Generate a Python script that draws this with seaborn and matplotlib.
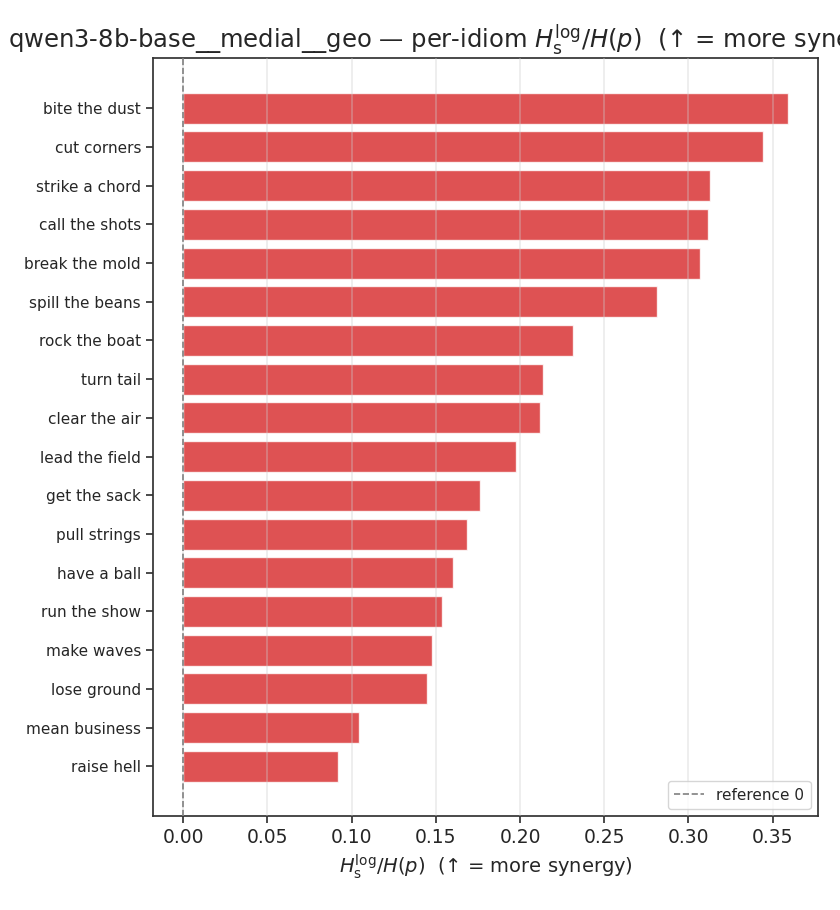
import matplotlib
matplotlib.use("Agg")
import matplotlib.pyplot as plt
import seaborn as sns
import pandas as pd

# per-idiom synergy ratio, sorted high to low
idioms = ["bite the dust", "cut corners", "strike a chord", "call the shots",
          "break the mold", "spill the beans", "rock the boat", "turn tail",
          "clear the air", "lead the field", "get the sack", "pull strings",
          "have a ball", "run the show", "make waves", "lose ground",
          "mean business", "raise hell"]
ratio = [0.3588, 0.3440, 0.3130, 0.3114, 0.3066, 0.2811, 0.2313, 0.2135,
         0.2117, 0.1975, 0.1762, 0.1684, 0.1601, 0.1536, 0.1477, 0.1447,
         0.1044, 0.0919]

df = pd.DataFrame({"idiom": idioms, "ratio": ratio})

sns.set_style("ticks")
plt.rcParams["font.family"] = ["DejaVu Sans"]

fig = plt.figure(figsize=(8.4, 9.1), dpi=100)
ax = fig.add_axes([0.182, 0.103, 0.792, 0.833])

sns.barplot(data=df, x="ratio", y="idiom", orient="h", color="tab:red",
            alpha=0.8, width=0.8, saturation=1, ax=ax)

ax.axvline(0, color="gray", linestyle="--", linewidth=1.2, label="reference 0", zorder=3)
ax.set_axisbelow(False)
ax.grid(axis="x", color=".8", alpha=0.4, linewidth=1.2)

for s in ax.spines.values():
    s.set_color("#333333")
    s.set_linewidth(1.25)

n = len(idioms)
ax.set_ylim(n - 1 + 1.29, -1.29)
ax.set_xlim(-0.018, 0.377)
ax.set_xticks([0.0, 0.05, 0.1, 0.15, 0.2, 0.25, 0.3, 0.35])
ax.tick_params(axis="x", labelsize=13.5, length=5, width=1.25, color="#333333")
ax.tick_params(axis="y", labelsize=11, length=5, width=1.25, color="#333333")
ax.set_ylabel("")
ax.set_xlabel(r"$H_{\mathrm{s}}^{\mathrm{log}}/H(p)$  (↑ = more synergy)", fontsize=14)
# title is wider than the figure, as in the original; it runs off the right edge
ax.set_title(r"qwen3-8b-base__medial__geo — per-idiom $H_{\mathrm{s}}^{\mathrm{log}}/H(p)$  (↑ = more synergy)",
             fontsize=17.5, x=0.452)
ax.legend(loc="lower right", fontsize=11)

fig.savefig("out.png", dpi=100)
